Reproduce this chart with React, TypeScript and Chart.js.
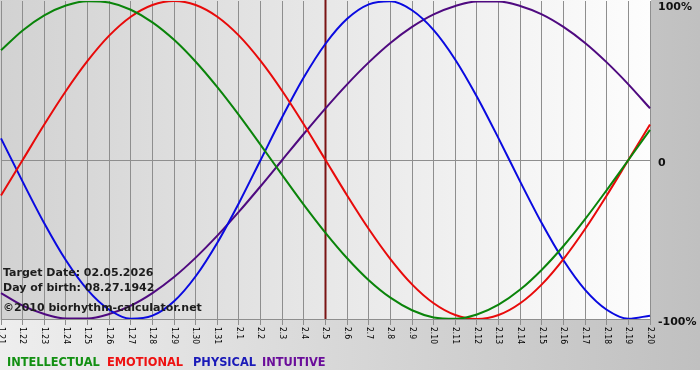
import { useEffect, useRef } from 'react';
import { Chart, registerables } from 'chart.js';

Chart.register(...registerables);

const DAYS = [
  '1.21', '1.22', '1.23', '1.24', '1.25', '1.26', '1.27', '1.28', '1.29', '1.30', '1.31',
  '2.1', '2.2', '2.3', '2.4', '2.5', '2.6', '2.7', '2.8', '2.9', '2.10',
  '2.11', '2.12', '2.13', '2.14', '2.15', '2.16', '2.17', '2.18', '2.19', '2.20',
];

const INTELLECTUAL = [
  69.0, 81.5, 91.0, 97.2, 99.9, 99.0, 94.5, 86.6, 75.6, 61.8, 45.8,
  28.2, 9.5, -9.5, -28.2, -45.8, -61.8, -75.6, -86.6, -94.5, -99.0,
  -99.9, -97.2, -91.0, -81.5, -69.0, -54.1, -37.2, -18.9, 0, 18.9,
];
const EMOTIONAL = [
  -22.3, 0, 22.3, 43.4, 62.3, 78.2, 90.1, 97.5, 100, 97.5, 90.1,
  78.2, 62.3, 43.4, 22.3, 0, -22.3, -43.4, -62.3, -78.2, -90.1,
  -97.5, -100, -97.5, -90.1, -78.2, -62.3, -43.4, -22.3, 0, 22.3,
];
const PHYSICAL = [
  13.6, -13.6, -39.8, -63.1, -81.7, -94.2, -99.8, -97.9, -88.8, -73.1, -52.0,
  -27.0, 0, 27.0, 52.0, 73.1, 88.8, 97.9, 99.8, 94.2, 81.7,
  63.1, 39.8, 13.6, -13.6, -39.8, -63.1, -81.7, -94.2, -99.8, -97.9,
];
const INTUITIVE = [
  -83.7, -91.6, -96.9, -99.7, -99.7, -96.9, -91.6, -83.7, -73.6, -61.4, -47.6,
  -32.5, -16.5, 0, 16.5, 32.5, 47.6, 61.4, 73.6, 83.7, 91.6,
  96.9, 99.7, 99.7, 96.9, 91.6, 83.7, 73.6, 61.4, 47.6, 32.5,
];

const SERIES_NAMES = ['INTELLECTUAL', 'EMOTIONAL', 'PHYSICAL', 'INTUITIVE'];
const SERIES_COLORS = ['#0a840a', '#e80a0a', '#0a0ae0', '#4f0a80'];
const LEGEND_COLORS = ['#129012', '#ee1111', '#1a1ab8', '#6a0d9a'];

const Y_TICK_VALUES = [100, 0, -100];
const Y_TICK_LABELS = ['100%', '0', '-100%'];

const TARGET_DAY = '2.5';
const INFO_LINES = [
  'Target Date: 02.05.2026',
  'Day of birth: 08.27.1942',
  '\u00a92010 biorhythm-calculator.net',
];

// layout constants
const W = 700;
const H = 380;
const LEGEND_X = [7, 107, 193, 262];
const INFO_BASELINES = [276, 291, 311];

const decorPlugin = {
  id: 'decor',
  beforeDraw(chart: any) {
    const { ctx, chartArea: a } = chart;
    ctx.save();
    ctx.fillStyle = '#ffffff';
    ctx.fillRect(0, 0, W, H);
    let g = ctx.createLinearGradient(0, 0, W, 0);
    g.addColorStop(0, '#eeeeee');
    g.addColorStop(1, '#c0c0c0');
    ctx.fillStyle = g;
    ctx.fillRect(0, 0, W, 370);
    g = ctx.createLinearGradient(0, 0, a.right, 0);
    g.addColorStop(0, '#d2d2d2');
    g.addColorStop(1, '#fdfdfd');
    ctx.fillStyle = g;
    ctx.fillRect(0, 0, a.right + 1, a.bottom + 1);
    ctx.restore();
  },
  beforeDatasetsDraw(chart: any) {
    const { ctx, chartArea: a } = chart;
    const x = chart.scales.x.getPixelForValue(DAYS.indexOf(TARGET_DAY));
    ctx.save();
    ctx.strokeStyle = '#7a1414';
    ctx.lineWidth = 2;
    ctx.beginPath();
    ctx.moveTo(x, 0);
    ctx.lineTo(x, a.bottom);
    ctx.stroke();
    ctx.restore();
  },
  afterDraw(chart: any) {
    const { ctx, chartArea: a } = chart;
    const xs = chart.scales.x;
    const ys = chart.scales.y;
    ctx.save();
    // x labels, rotated clockwise
    ctx.fillStyle = '#000000';
    ctx.font = '8.5px "DejaVu Sans Condensed", "DejaVu Sans", sans-serif';
    ctx.textAlign = 'left';
    ctx.textBaseline = 'middle';
    DAYS.forEach((d, i) => {
      const x = xs.getPixelForValue(i);
      ctx.save();
      ctx.translate(x, a.bottom + 8);
      ctx.rotate(Math.PI / 2);
      ctx.fillText(d, 0, 0);
      ctx.restore();
    });
    // y labels
    ctx.font = 'bold 11px "DejaVu Sans", sans-serif';
    ctx.fillStyle = '#111111';
    ctx.textBaseline = 'middle';
    Y_TICK_VALUES.forEach((v, i) => {
      const y = Math.max(ys.getPixelForValue(v) + 3, 7);
      ctx.fillText(Y_TICK_LABELS[i], a.right + 8, y);
    });
    // legend
    ctx.font = 'bold 11.4px "DejaVu Sans", sans-serif';
    ctx.textBaseline = 'alphabetic';
    SERIES_NAMES.forEach((n, i) => {
      ctx.fillStyle = LEGEND_COLORS[i];
      ctx.fillText(n, LEGEND_X[i], 366);
    });
    // info
    ctx.font = 'bold 11px "DejaVu Sans", sans-serif';
    ctx.fillStyle = '#1c1c1c';
    INFO_LINES.forEach((t, i) => {
      ctx.fillText(t, 3, INFO_BASELINES[i]);
    });
    ctx.restore();
  },
};

export default function App() {
  const ref = useRef<HTMLCanvasElement | null>(null);
  useEffect(() => {
    const prev = document.body.style.margin;
    document.body.style.margin = '0';
    const canvas = ref.current!;
    const seriesData = [INTELLECTUAL, EMOTIONAL, PHYSICAL, INTUITIVE];
    const chart = new Chart(canvas, {
      type: 'line',
      data: {
        labels: DAYS,
        datasets: seriesData.map((d, i) => ({
          label: SERIES_NAMES[i],
          data: d,
          borderColor: SERIES_COLORS[i],
          backgroundColor: SERIES_COLORS[i],
          borderWidth: 2,
          pointRadius: 0,
          cubicInterpolationMode: 'monotone' as const,
          fill: false,
        })),
      },
      options: {
        animation: false,
        responsive: false,
        devicePixelRatio: 1,
        layout: { padding: { left: 1, top: 1, right: 0, bottom: 0 } },
        plugins: { legend: { display: false }, tooltip: { enabled: false } },
        scales: {
          x: {
            type: 'category',
            offset: false,
            grid: {
              color: '#8e8e8e',
              lineWidth: 1,
              drawTicks: true,
              tickLength: 6,
            },
            border: { display: true, color: '#8e8e8e' },
            ticks: { display: false, autoSkip: false },
            afterFit: (s: any) => { s.height = H - 319; },
          },
          y: {
            position: 'right',
            min: -100,
            max: 100,
            grid: {
              color: (c: any) => (c.tick && c.tick.value === 100 ? 'rgba(0,0,0,0)' : '#8e8e8e'),
              drawTicks: false,
            },
            border: { display: true, color: '#8e8e8e' },
            ticks: { display: false, stepSize: 100 },
            afterFit: (s: any) => { s.width = W - 650; },
          },
        },
      },
      plugins: [decorPlugin],
    });
    return () => {
      chart.destroy();
      document.body.style.margin = prev;
    };
  }, []);
  return (
    <div style={{ position: 'absolute', left: 0, top: 0, width: W, height: H }}>
      <canvas ref={ref} width={W} height={H} style={{ display: 'block', width: W, height: H }} />
    </div>
  );
}
